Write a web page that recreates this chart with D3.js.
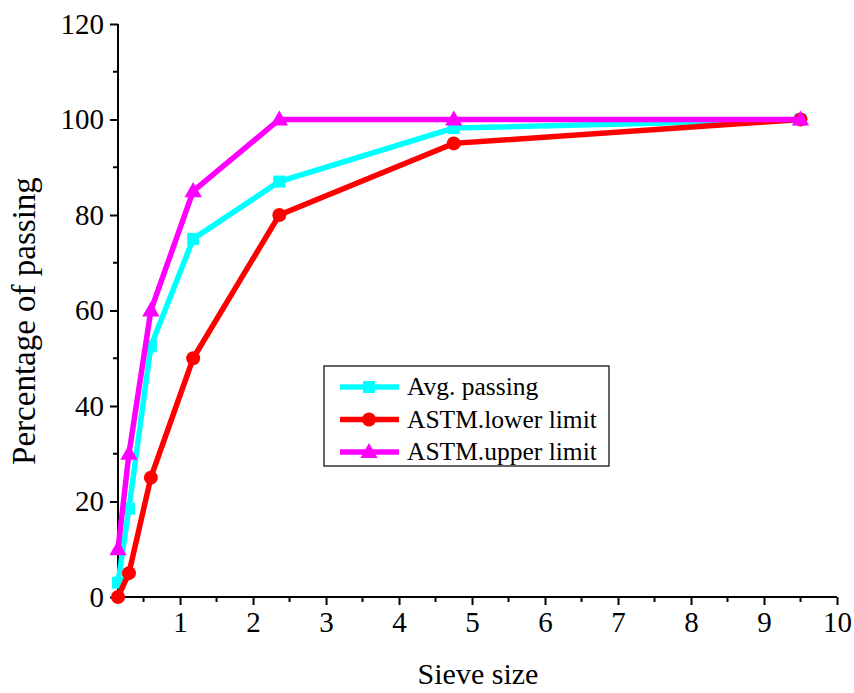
<!DOCTYPE html>
<html>
<head>
<meta charset="utf-8">
<script src="https://cdn.jsdelivr.net/npm/d3@7"></script>
<style>
  html, body { margin: 0; padding: 0; background: #fff; }
  svg { display: block; font-family: "Liberation Serif", "Times New Roman", serif; }
</style>
</head>
<body>
<svg id="chart" width="854" height="693"></svg>
<script>
// Sieve sizes (mm) and percentage passing for each gradation curve
const sieveSizes = [0.15, 0.3, 0.6, 1.18, 2.36, 4.75, 9.5];
const avgPassing = [3, 18.5, 52.5, 75, 87, 98.2, 100];
const astmLower = [0, 5, 25, 50, 80, 95, 100];
const astmUpper = [10, 30, 60, 85, 100, 100, 100];

const xTicks = [1, 2, 3, 4, 5, 6, 7, 8, 9, 10];
const xMinorTicks = [0.5, 1.5, 2.5, 3.5, 4.5, 5.5, 6.5, 7.5, 8.5, 9.5];
const yTicks = [0, 20, 40, 60, 80, 100, 120];
const yMinorTicks = [10, 30, 50, 70, 90, 110];

const series = [
  { name: "Avg. passing", values: avgPassing, color: "#00ffff", marker: "square" },
  { name: "ASTM.lower limit", values: astmLower, color: "#ff0000", marker: "circle" },
  { name: "ASTM.upper limit", values: astmUpper, color: "#ff00ff", marker: "triangle" }
];

const svg = d3.select("#chart");
const plotLeft = 118, plotRight = 837, plotTop = 24, plotBottom = 597;

const x = d3.scaleLinear().domain([0.15, 10]).range([plotLeft, plotRight]);
const y = d3.scaleLinear().domain([0, 120]).range([plotBottom, plotTop]);

// Axes
const xAxis = svg.append("g").attr("transform", `translate(0,${plotBottom})`)
  .call(d3.axisBottom(x).tickValues(xTicks).tickSize(8).tickPadding(6).tickFormat(d3.format("d")));
xAxis.append("g").selectAll("line").data(xMinorTicks).join("line")
  .attr("x1", d => x(d)).attr("x2", d => x(d)).attr("y1", 0).attr("y2", 5)
  .attr("stroke", "#000").attr("stroke-width", 2);

const yAxis = svg.append("g").attr("transform", `translate(${plotLeft},0)`)
  .call(d3.axisLeft(y).tickValues(yTicks).tickSize(8).tickPadding(6).tickFormat(d3.format("d")));
yAxis.append("g").selectAll("line").data(yMinorTicks).join("line")
  .attr("y1", d => y(d)).attr("y2", d => y(d)).attr("x1", 0).attr("x2", -5)
  .attr("stroke", "#000").attr("stroke-width", 2);

[xAxis, yAxis].forEach(a => {
  a.select(".domain").attr("stroke", "#000").attr("stroke-width", 2);
  a.selectAll(".tick line").attr("stroke", "#000").attr("stroke-width", 2);
  a.selectAll(".tick text").attr("fill", "#000").attr("font-size", 29)
    .attr("font-family", "Liberation Serif, Times New Roman, serif");
});
xAxis.select(".domain").attr("d", `M${plotLeft},0H${plotRight}`);
yAxis.select(".domain").attr("d", `M0,${plotBottom}V${plotTop}`);

// Axis titles
svg.append("text").attr("x", 478).attr("y", 684)
  .attr("text-anchor", "middle").attr("font-size", 30).text("Sieve size");
svg.append("text").attr("transform", `translate(35,321) rotate(-90)`)
  .attr("text-anchor", "middle").attr("font-size", 33).text("Percentage of passing");

// Marker drawing helper
function drawMarker(g, type, color, cx, cy) {
  if (type === "square") {
    g.append("rect").attr("x", cx - 6).attr("y", cy - 6).attr("width", 12).attr("height", 12).attr("fill", color);
  } else if (type === "circle") {
    g.append("circle").attr("cx", cx).attr("cy", cy).attr("r", 7).attr("fill", color);
  } else {
    g.append("path").attr("d", d3.symbol(d3.symbolTriangle, 130)()).attr("transform", `translate(${cx},${cy + 1})`).attr("fill", color);
  }
}

const line = d3.line().x(d => x(d[0])).y(d => y(d[1]));

series.forEach(s => {
  const pts = sieveSizes.map((v, i) => [v, s.values[i]]);
  const g = svg.append("g");
  g.append("path").datum(pts).attr("d", line).attr("fill", "none")
    .attr("stroke", s.color).attr("stroke-width", 5.5).attr("stroke-linejoin", "miter");
  pts.forEach(p => drawMarker(g, s.marker, s.color, x(p[0]), y(p[1])));
});

// Legend
const lg = svg.append("g");
lg.append("rect").attr("x", 324).attr("y", 366).attr("width", 285).attr("height", 100)
  .attr("fill", "#fff").attr("stroke", "#000").attr("stroke-width", 1.2);
series.forEach((s, i) => {
  const ly = 387 + i * 32.5;
  lg.append("line").attr("x1", 340).attr("x2", 399).attr("y1", ly).attr("y2", ly)
    .attr("stroke", s.color).attr("stroke-width", 5.5);
  drawMarker(lg, s.marker, s.color, 369, ly);
  lg.append("text").attr("x", 407).attr("y", ly + 8).attr("font-size", 25.5).attr("fill", "#000").text(s.name);
});
</script>
</body>
</html>
